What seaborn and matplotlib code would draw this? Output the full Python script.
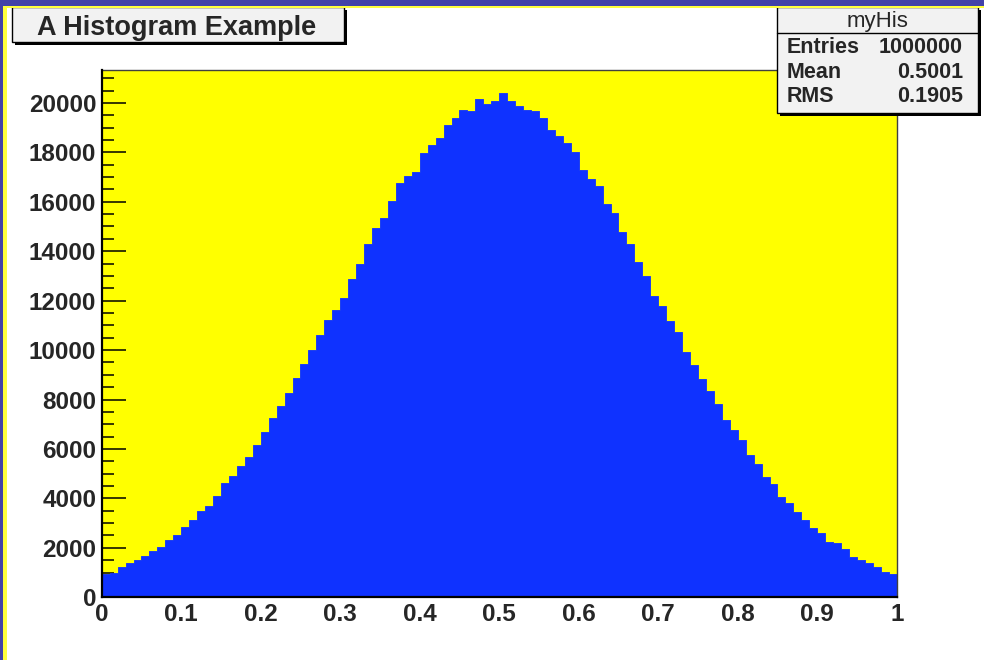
import numpy as np
import matplotlib
matplotlib.use("Agg")
import matplotlib.pyplot as plt
from matplotlib.patches import Rectangle
from matplotlib.lines import Line2D
import seaborn as sns


# ------------------------------#
# Data
# ------------------------------#
hist_name = "myHis"
title = "A Histogram Example"

x_low, x_high, n_bins = 0.0, 1.0, 100

counts = [
    950, 1000, 1220, 1380, 1490, 1690, 1890, 2030, 2300, 2510,
    2860, 3130, 3510, 3680, 4080, 4620, 4890, 5320, 5670, 6150,
    6690, 7240, 7730, 8270, 8890, 9440, 10000, 10610, 11230, 11630,
    12120, 12880, 13500, 14310, 14930, 15350, 16020, 16770, 17050, 17200,
    17960, 18290, 18560, 19120, 19390, 19730, 19660, 20140, 19940, 20060,
    20410, 20060, 19870, 19730, 19660, 19390, 18910, 18640, 18360, 18020,
    17270, 16920, 16650, 15890, 15550, 14790, 14310, 13560, 13010, 12190,
    11780, 11160, 10740, 9930, 9380, 8840, 8350, 7810, 7190, 6780,
    6380, 5740, 5400, 4860, 4580, 4040, 3820, 3470, 3130, 2800,
    2590, 2240, 2190, 1970, 1640, 1500, 1370, 1220, 1030, 950,
]

stat_labels = ["Entries", "Mean", "RMS"]
stat_values = ["1000000", "0.5001", "0.1905"]

x_ticks = [0, 0.1, 0.2, 0.3, 0.4, 0.5, 0.6, 0.7, 0.8, 0.9, 1]
x_tick_labels = ["0", "0.1", "0.2", "0.3", "0.4", "0.5", "0.6", "0.7", "0.8", "0.9", "1"]
y_ticks = [0, 2000, 4000, 6000, 8000, 10000, 12000, 14000, 16000, 18000, 20000]
y_tick_labels = [str(v) for v in y_ticks]
y_max = 21330


# ------------------------------#
# Style
# ------------------------------#
BLUE = "#0f32ff"
YELLOW = "#ffff00"
FRAME_BLUE = "#4242a8"
FRAME_YELLOW = "#ffff3c"
BOX_GRAY = "#f2f2f2"

sns.set_style("ticks")
plt.rcParams["font.family"] = ["Liberation Sans", "DejaVu Sans"]

W, H = 984, 660


def fx(x):
    return x / W


def fy(y):
    return 1 - y / H


# ------------------------------#
# Figure + histogram
# ------------------------------#
fig = plt.figure(figsize=(W / 100, H / 100), dpi=100)
fig.patch.set_facecolor("white")

ax = fig.add_axes([fx(101.7), fy(597.3), fx(896.7) - fx(101.7), fy(70) - fy(597.3)])
ax.set_facecolor(YELLOW)

bin_width = (x_high - x_low) / n_bins
bin_centers = [x_low + (i + 0.5) * bin_width for i in range(len(counts))]

sns.histplot(
    x=bin_centers,
    weights=counts,
    bins=n_bins,
    binrange=(x_low, x_high),
    element="step",
    fill=True,
    color=BLUE,
    alpha=1,
    linewidth=0.6,
    ax=ax,
)

ax.set_xlim(x_low, x_high)
ax.set_ylim(0, y_max)
ax.set_xlabel("")
ax.set_ylabel("")

ax.set_xticks(x_ticks, labels=x_tick_labels)
ax.set_yticks(y_ticks, labels=y_tick_labels)
ax.set_xticks(np.arange(0, 1.0001, 0.02), minor=True)
ax.set_yticks(np.arange(0, y_max, 500), minor=True)

ax.tick_params(axis="x", which="major", direction="in", length=12, width=1.1,
               pad=4, labelsize=17.5, color="black")
ax.tick_params(axis="x", which="minor", direction="in", length=5.8, width=1.1, color="black")
ax.tick_params(axis="y", which="major", direction="in", length=17, width=1.1,
               pad=4, labelsize=17.5, color="black")
ax.tick_params(axis="y", which="minor", direction="in", length=8.6, width=1.1, color="black")
for lab in ax.get_xticklabels() + ax.get_yticklabels():
    lab.set_fontweight("bold")

for side in ["left", "bottom"]:
    ax.spines[side].set_linewidth(1.6)
    ax.spines[side].set_color("black")
for side in ["top", "right"]:
    ax.spines[side].set_visible(True)
    ax.spines[side].set_linewidth(1.0)
    ax.spines[side].set_color("#404040")
ax.spines["left"].set_zorder(5)
ax.spines["bottom"].set_zorder(5)


# ------------------------------#
# Title box and stats box (ROOT style)
# ------------------------------#
def root_box(x0, y0, x1, y1, shadow=3):
    fig.patches.append(Rectangle((fx(x0 + shadow), fy(y1 + shadow)), fx(x1 - x0), (y1 - y0) / H,
                                 transform=fig.transFigure, facecolor="black",
                                 edgecolor="none", zorder=2))
    fig.patches.append(Rectangle((fx(x0), fy(y1)), fx(x1 - x0), (y1 - y0) / H,
                                 transform=fig.transFigure, facecolor=BOX_GRAY,
                                 edgecolor="black", linewidth=1.0, zorder=2))


root_box(12, 7, 344, 41.5)
fig.text(fx(177), fy(35), title, ha="center", va="baseline",
         fontsize=19.5, fontweight="bold", zorder=4)

root_box(777, 7, 978, 113)
fig.lines.append(Line2D([fx(777), fx(978)], [fy(33), fy(33)], transform=fig.transFigure,
                        color="black", linewidth=1.0, zorder=3))
fig.text(fx(877.5), fy(26.5), hist_name, ha="center", va="baseline",
         fontsize=16, zorder=4)

row_baselines = [53.3, 77.5, 101.7]
for lab, val, yb in zip(stat_labels, stat_values, row_baselines):
    fig.text(fx(787), fy(yb), lab, ha="left", va="baseline",
             fontsize=15.5, fontweight="bold", zorder=4)
    fig.text(fx(963), fy(yb), val, ha="right", va="baseline",
             fontsize=15.5, fontweight="bold", zorder=4)


# ------------------------------#
# Outer frame (top and left edges only)
# ------------------------------#
fig.patches.append(Rectangle((0, fy(8)), 1, 8 / H, transform=fig.transFigure,
                             facecolor=FRAME_YELLOW, edgecolor="none", zorder=6))
fig.patches.append(Rectangle((0, 0), fx(6.7), 1, transform=fig.transFigure,
                             facecolor=FRAME_YELLOW, edgecolor="none", zorder=6))
fig.patches.append(Rectangle((0, fy(5.7)), 1, 5.7 / H, transform=fig.transFigure,
                             facecolor=FRAME_BLUE, edgecolor="none", zorder=7))
fig.patches.append(Rectangle((0, 0), fx(3.3), 1, transform=fig.transFigure,
                             facecolor=FRAME_BLUE, edgecolor="none", zorder=7))

fig.savefig("out.png", dpi=100)
plt.close(fig)
